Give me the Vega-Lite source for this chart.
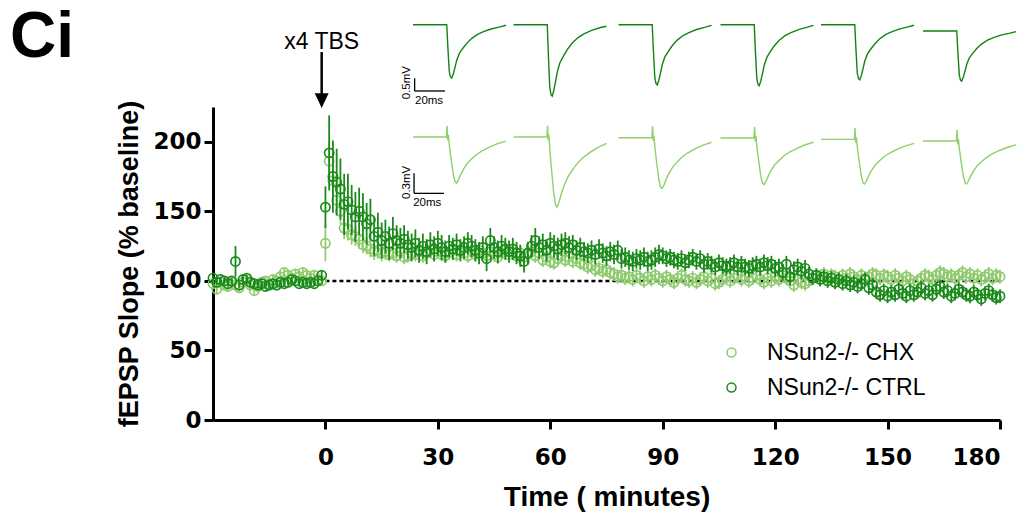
{
"$schema":"https://vega.github.io/schema/vega-lite/v6.json",
"width":787,"height":313,
"autosize":{"type":"none"},
"padding":{"left":213,"top":107,"right":28,"bottom":101},
"background":"white",
"config":{"view":{"stroke":null},"font":"Liberation Sans"},
"title":{"text":"Ci","anchor":"start","frame":"group","fontSize":64,"fontWeight":"bold","font":"Liberation Sans","color":"black","dx":-203,"baseline":"alphabetic","offset":-99},
"datasets":{
"ctrl":[
{"min":-30,"slope":102,"sem":2},{"min":-29,"slope":99,"sem":2},{"min":-28,"slope":101,"sem":2},{"min":-27,"slope":100,"sem":2},{"min":-26,"slope":98,"sem":2},{"min":-25,"slope":100,"sem":2},{"min":-24,"slope":114,"sem":11},{"min":-23,"slope":97,"sem":2},{"min":-22,"slope":101,"sem":2},{"min":-21,"slope":102,"sem":2},{"min":-20,"slope":99,"sem":2},{"min":-19,"slope":98,"sem":2},{"min":-18,"slope":97,"sem":2},{"min":-17,"slope":98,"sem":2},{"min":-16,"slope":96,"sem":2},{"min":-15,"slope":97,"sem":2},{"min":-14,"slope":98,"sem":2},{"min":-13,"slope":97,"sem":2},{"min":-12,"slope":99,"sem":2},{"min":-11,"slope":98,"sem":2},{"min":-10,"slope":99,"sem":2},{"min":-9,"slope":101,"sem":2},{"min":-8,"slope":100,"sem":2},{"min":-7,"slope":98,"sem":2},{"min":-6,"slope":99,"sem":2},{"min":-5,"slope":98,"sem":2},{"min":-4,"slope":99,"sem":2},{"min":-3,"slope":98,"sem":2},{"min":-2,"slope":100,"sem":2},{"min":-1,"slope":104,"sem":3},
{"min":0,"slope":153,"sem":15},{"min":1,"slope":192,"sem":27},{"min":2,"slope":175,"sem":26},{"min":3,"slope":171,"sem":24},{"min":4,"slope":166,"sem":22},{"min":5,"slope":155,"sem":22},{"min":6,"slope":157,"sem":20},{"min":7,"slope":151,"sem":18},{"min":8,"slope":146,"sem":18},{"min":9,"slope":150,"sem":17},{"min":10,"slope":146,"sem":17},{"min":11,"slope":141,"sem":15},{"min":12,"slope":144,"sem":15},{"min":13,"slope":132,"sem":14},{"min":14,"slope":135,"sem":14},{"min":15,"slope":129,"sem":13},{"min":16,"slope":132,"sem":12},{"min":17,"slope":127,"sem":12},{"min":18,"slope":134,"sem":12},{"min":19,"slope":129,"sem":11},{"min":20,"slope":127,"sem":11},{"min":21,"slope":130,"sem":10},{"min":22,"slope":126,"sem":10},{"min":23,"slope":124,"sem":10},{"min":24,"slope":127,"sem":10},{"min":25,"slope":122,"sem":9},{"min":26,"slope":125,"sem":9},{"min":27,"slope":121,"sem":9},{"min":28,"slope":126,"sem":9},{"min":29,"slope":123,"sem":9},{"min":30,"slope":127,"sem":9},{"min":31,"slope":124,"sem":9},{"min":32,"slope":121,"sem":8},{"min":33,"slope":125,"sem":8},{"min":34,"slope":123,"sem":8},{"min":35,"slope":126,"sem":8},{"min":36,"slope":122,"sem":8},{"min":37,"slope":124,"sem":8},{"min":38,"slope":127,"sem":8},{"min":39,"slope":125,"sem":8},{"min":40,"slope":122,"sem":8},{"min":41,"slope":120,"sem":8},{"min":42,"slope":124,"sem":8},{"min":43,"slope":116,"sem":9},{"min":44,"slope":129,"sem":9},{"min":45,"slope":124,"sem":8},{"min":46,"slope":121,"sem":8},{"min":47,"slope":125,"sem":8},{"min":48,"slope":123,"sem":8},{"min":49,"slope":121,"sem":8},{"min":50,"slope":123,"sem":8},{"min":51,"slope":120,"sem":8},{"min":52,"slope":118,"sem":8},{"min":53,"slope":114,"sem":8},{"min":54,"slope":120,"sem":8},{"min":55,"slope":125,"sem":8},{"min":56,"slope":129,"sem":9},{"min":57,"slope":124,"sem":8},{"min":58,"slope":126,"sem":8},{"min":59,"slope":122,"sem":8},{"min":60,"slope":127,"sem":8},{"min":61,"slope":125,"sem":8},{"min":62,"slope":123,"sem":8},{"min":63,"slope":126,"sem":8},{"min":64,"slope":127,"sem":8},{"min":65,"slope":124,"sem":8},{"min":66,"slope":126,"sem":7},{"min":67,"slope":122,"sem":7},{"min":68,"slope":124,"sem":7},{"min":69,"slope":121,"sem":7},{"min":70,"slope":120,"sem":7},{"min":71,"slope":122,"sem":7},{"min":72,"slope":119,"sem":7},{"min":73,"slope":123,"sem":7},{"min":74,"slope":120,"sem":7},{"min":75,"slope":118,"sem":7},{"min":76,"slope":121,"sem":7},{"min":77,"slope":119,"sem":7},{"min":78,"slope":122,"sem":7},{"min":79,"slope":116,"sem":7},{"min":80,"slope":117,"sem":7},{"min":81,"slope":115,"sem":7},{"min":82,"slope":114,"sem":7},{"min":83,"slope":116,"sem":7},{"min":84,"slope":115,"sem":7},{"min":85,"slope":117,"sem":7},{"min":86,"slope":114,"sem":7},{"min":87,"slope":115,"sem":7},{"min":88,"slope":117,"sem":7},{"min":89,"slope":119,"sem":7},{"min":90,"slope":118,"sem":6},{"min":91,"slope":116,"sem":6},{"min":92,"slope":117,"sem":6},{"min":93,"slope":115,"sem":6},{"min":94,"slope":114,"sem":6},{"min":95,"slope":116,"sem":6},{"min":96,"slope":113,"sem":6},{"min":97,"slope":115,"sem":6},{"min":98,"slope":117,"sem":6},{"min":99,"slope":114,"sem":6},{"min":100,"slope":116,"sem":6},{"min":101,"slope":112,"sem":6},{"min":102,"slope":114,"sem":6},{"min":103,"slope":112,"sem":6},{"min":104,"slope":110,"sem":6},{"min":105,"slope":113,"sem":6},{"min":106,"slope":111,"sem":6},{"min":107,"slope":110,"sem":6},{"min":108,"slope":111,"sem":6},{"min":109,"slope":113,"sem":6},{"min":110,"slope":110,"sem":6},{"min":111,"slope":112,"sem":6},{"min":112,"slope":110,"sem":6},{"min":113,"slope":109,"sem":6},{"min":114,"slope":111,"sem":6},{"min":115,"slope":112,"sem":6},{"min":116,"slope":110,"sem":6},{"min":117,"slope":113,"sem":6},{"min":118,"slope":111,"sem":6},{"min":119,"slope":112,"sem":6},{"min":120,"slope":109,"sem":6},{"min":121,"slope":110,"sem":6},{"min":122,"slope":106,"sem":6},{"min":123,"slope":112,"sem":6},{"min":124,"slope":103,"sem":6},{"min":125,"slope":108,"sem":6},{"min":126,"slope":110,"sem":6},{"min":127,"slope":107,"sem":6},{"min":128,"slope":109,"sem":6},{"min":129,"slope":105,"sem":5},{"min":130,"slope":102,"sem":5},{"min":131,"slope":104,"sem":5},{"min":132,"slope":101,"sem":5},{"min":133,"slope":103,"sem":5},{"min":134,"slope":100,"sem":5},{"min":135,"slope":102,"sem":5},{"min":136,"slope":99,"sem":5},{"min":137,"slope":101,"sem":5},{"min":138,"slope":98,"sem":5},{"min":139,"slope":100,"sem":5},{"min":140,"slope":97,"sem":5},{"min":141,"slope":99,"sem":5},{"min":142,"slope":96,"sem":5},{"min":143,"slope":98,"sem":5},{"min":144,"slope":101,"sem":5},{"min":145,"slope":95,"sem":5},{"min":146,"slope":97,"sem":5},{"min":147,"slope":92,"sem":5},{"min":148,"slope":90,"sem":5},{"min":149,"slope":93,"sem":5},{"min":150,"slope":89,"sem":5},{"min":151,"slope":92,"sem":5},{"min":152,"slope":90,"sem":5},{"min":153,"slope":94,"sem":5},{"min":154,"slope":91,"sem":5},{"min":155,"slope":89,"sem":5},{"min":156,"slope":93,"sem":5},{"min":157,"slope":90,"sem":5},{"min":158,"slope":92,"sem":5},{"min":159,"slope":95,"sem":5},{"min":160,"slope":91,"sem":5},{"min":161,"slope":93,"sem":5},{"min":162,"slope":90,"sem":5},{"min":163,"slope":94,"sem":5},{"min":164,"slope":96,"sem":5},{"min":165,"slope":92,"sem":5},{"min":166,"slope":93,"sem":5},{"min":167,"slope":89,"sem":5},{"min":168,"slope":91,"sem":5},{"min":169,"slope":94,"sem":5},{"min":170,"slope":92,"sem":5},{"min":171,"slope":90,"sem":5},{"min":172,"slope":89,"sem":5},{"min":173,"slope":92,"sem":5},{"min":174,"slope":90,"sem":5},{"min":175,"slope":87,"sem":5},{"min":176,"slope":91,"sem":5},{"min":177,"slope":93,"sem":5},{"min":178,"slope":90,"sem":5},{"min":179,"slope":88,"sem":5},{"min":180,"slope":89,"sem":5}
],
"chx":[
{"min":-30,"slope":98,"sem":3},{"min":-29,"slope":94,"sem":3},{"min":-28,"slope":99,"sem":3},{"min":-27,"slope":97,"sem":3},{"min":-26,"slope":96,"sem":3},{"min":-25,"slope":99,"sem":3},{"min":-24,"slope":97,"sem":3},{"min":-23,"slope":95,"sem":3},{"min":-22,"slope":99,"sem":3},{"min":-21,"slope":101,"sem":3},{"min":-20,"slope":97,"sem":3},{"min":-19,"slope":93,"sem":3},{"min":-18,"slope":96,"sem":3},{"min":-17,"slope":99,"sem":3},{"min":-16,"slope":100,"sem":3},{"min":-15,"slope":98,"sem":3},{"min":-14,"slope":101,"sem":3},{"min":-13,"slope":100,"sem":3},{"min":-12,"slope":103,"sem":3},{"min":-11,"slope":106,"sem":3},{"min":-10,"slope":104,"sem":3},{"min":-9,"slope":102,"sem":3},{"min":-8,"slope":105,"sem":3},{"min":-7,"slope":103,"sem":3},{"min":-6,"slope":106,"sem":3},{"min":-5,"slope":104,"sem":3},{"min":-4,"slope":102,"sem":3},{"min":-3,"slope":104,"sem":3},{"min":-2,"slope":101,"sem":3},{"min":-1,"slope":100,"sem":3},
{"min":0,"slope":127,"sem":13},{"min":1,"slope":186,"sem":14},{"min":2,"slope":172,"sem":12},{"min":3,"slope":158,"sem":10},{"min":4,"slope":150,"sem":9},{"min":5,"slope":138,"sem":8},{"min":6,"slope":137,"sem":8},{"min":7,"slope":133,"sem":7},{"min":8,"slope":132,"sem":7},{"min":9,"slope":130,"sem":7},{"min":10,"slope":126,"sem":6},{"min":11,"slope":125,"sem":6},{"min":12,"slope":123,"sem":6},{"min":13,"slope":121,"sem":6},{"min":14,"slope":122,"sem":6},{"min":15,"slope":120,"sem":6},{"min":16,"slope":121,"sem":6},{"min":17,"slope":119,"sem":5},{"min":18,"slope":120,"sem":5},{"min":19,"slope":118,"sem":5},{"min":20,"slope":121,"sem":5},{"min":21,"slope":117,"sem":5},{"min":22,"slope":118,"sem":5},{"min":23,"slope":120,"sem":5},{"min":24,"slope":119,"sem":5},{"min":25,"slope":121,"sem":5},{"min":26,"slope":118,"sem":5},{"min":27,"slope":120,"sem":5},{"min":28,"slope":122,"sem":5},{"min":29,"slope":119,"sem":5},{"min":30,"slope":121,"sem":5},{"min":31,"slope":119,"sem":5},{"min":32,"slope":118,"sem":5},{"min":33,"slope":120,"sem":5},{"min":34,"slope":122,"sem":5},{"min":35,"slope":119,"sem":5},{"min":36,"slope":121,"sem":5},{"min":37,"slope":120,"sem":5},{"min":38,"slope":118,"sem":5},{"min":39,"slope":121,"sem":5},{"min":40,"slope":119,"sem":5},{"min":41,"slope":122,"sem":5},{"min":42,"slope":120,"sem":5},{"min":43,"slope":118,"sem":5},{"min":44,"slope":121,"sem":5},{"min":45,"slope":119,"sem":5},{"min":46,"slope":117,"sem":5},{"min":47,"slope":120,"sem":5},{"min":48,"slope":122,"sem":5},{"min":49,"slope":119,"sem":5},{"min":50,"slope":121,"sem":5},{"min":51,"slope":118,"sem":5},{"min":52,"slope":120,"sem":5},{"min":53,"slope":117,"sem":5},{"min":54,"slope":119,"sem":5},{"min":55,"slope":121,"sem":5},{"min":56,"slope":118,"sem":5},{"min":57,"slope":120,"sem":5},{"min":58,"slope":115,"sem":5},{"min":59,"slope":117,"sem":5},{"min":60,"slope":114,"sem":5},{"min":61,"slope":113,"sem":5},{"min":62,"slope":116,"sem":5},{"min":63,"slope":118,"sem":5},{"min":64,"slope":115,"sem":5},{"min":65,"slope":117,"sem":5},{"min":66,"slope":114,"sem":5},{"min":67,"slope":116,"sem":5},{"min":68,"slope":113,"sem":5},{"min":69,"slope":112,"sem":5},{"min":70,"slope":110,"sem":5},{"min":71,"slope":111,"sem":5},{"min":72,"slope":108,"sem":5},{"min":73,"slope":109,"sem":5},{"min":74,"slope":107,"sem":5},{"min":75,"slope":108,"sem":5},{"min":76,"slope":106,"sem":5},{"min":77,"slope":105,"sem":5},{"min":78,"slope":103,"sem":5},{"min":79,"slope":104,"sem":5},{"min":80,"slope":102,"sem":5},{"min":81,"slope":103,"sem":5},{"min":82,"slope":101,"sem":5},{"min":83,"slope":104,"sem":5},{"min":84,"slope":102,"sem":5},{"min":85,"slope":100,"sem":5},{"min":86,"slope":103,"sem":5},{"min":87,"slope":101,"sem":5},{"min":88,"slope":104,"sem":5},{"min":89,"slope":102,"sem":5},{"min":90,"slope":100,"sem":5},{"min":91,"slope":103,"sem":5},{"min":92,"slope":101,"sem":5},{"min":93,"slope":99,"sem":5},{"min":94,"slope":102,"sem":5},{"min":95,"slope":104,"sem":5},{"min":96,"slope":101,"sem":5},{"min":97,"slope":100,"sem":5},{"min":98,"slope":102,"sem":5},{"min":99,"slope":99,"sem":5},{"min":100,"slope":101,"sem":5},{"min":101,"slope":103,"sem":5},{"min":102,"slope":100,"sem":5},{"min":103,"slope":102,"sem":5},{"min":104,"slope":98,"sem":5},{"min":105,"slope":99,"sem":5},{"min":106,"slope":101,"sem":5},{"min":107,"slope":103,"sem":5},{"min":108,"slope":100,"sem":5},{"min":109,"slope":102,"sem":5},{"min":110,"slope":104,"sem":5},{"min":111,"slope":101,"sem":5},{"min":112,"slope":103,"sem":5},{"min":113,"slope":100,"sem":5},{"min":114,"slope":102,"sem":5},{"min":115,"slope":104,"sem":5},{"min":116,"slope":101,"sem":5},{"min":117,"slope":99,"sem":5},{"min":118,"slope":102,"sem":5},{"min":119,"slope":100,"sem":5},{"min":120,"slope":103,"sem":5},{"min":121,"slope":101,"sem":5},{"min":122,"slope":104,"sem":5},{"min":123,"slope":102,"sem":5},{"min":124,"slope":100,"sem":5},{"min":125,"slope":97,"sem":5},{"min":126,"slope":101,"sem":5},{"min":127,"slope":99,"sem":5},{"min":128,"slope":98,"sem":5},{"min":129,"slope":100,"sem":5},{"min":130,"slope":102,"sem":5},{"min":131,"slope":104,"sem":5},{"min":132,"slope":103,"sem":5},{"min":133,"slope":105,"sem":5},{"min":134,"slope":102,"sem":5},{"min":135,"slope":104,"sem":5},{"min":136,"slope":103,"sem":5},{"min":137,"slope":101,"sem":5},{"min":138,"slope":104,"sem":5},{"min":139,"slope":102,"sem":5},{"min":140,"slope":105,"sem":5},{"min":141,"slope":103,"sem":5},{"min":142,"slope":101,"sem":5},{"min":143,"slope":104,"sem":5},{"min":144,"slope":102,"sem":5},{"min":145,"slope":103,"sem":5},{"min":146,"slope":105,"sem":5},{"min":147,"slope":104,"sem":5},{"min":148,"slope":102,"sem":5},{"min":149,"slope":104,"sem":5},{"min":150,"slope":103,"sem":5},{"min":151,"slope":101,"sem":5},{"min":152,"slope":104,"sem":5},{"min":153,"slope":102,"sem":5},{"min":154,"slope":100,"sem":5},{"min":155,"slope":103,"sem":5},{"min":156,"slope":101,"sem":5},{"min":157,"slope":98,"sem":5},{"min":158,"slope":100,"sem":5},{"min":159,"slope":102,"sem":5},{"min":160,"slope":104,"sem":5},{"min":161,"slope":103,"sem":5},{"min":162,"slope":101,"sem":5},{"min":163,"slope":104,"sem":5},{"min":164,"slope":106,"sem":5},{"min":165,"slope":105,"sem":5},{"min":166,"slope":103,"sem":5},{"min":167,"slope":104,"sem":5},{"min":168,"slope":102,"sem":5},{"min":169,"slope":104,"sem":5},{"min":170,"slope":106,"sem":5},{"min":171,"slope":103,"sem":5},{"min":172,"slope":105,"sem":5},{"min":173,"slope":102,"sem":5},{"min":174,"slope":104,"sem":5},{"min":175,"slope":101,"sem":5},{"min":176,"slope":103,"sem":5},{"min":177,"slope":105,"sem":5},{"min":178,"slope":102,"sem":5},{"min":179,"slope":104,"sem":5},{"min":180,"slope":103,"sem":5}
],
"traceTop":[
{"sweep":1,"t":0,"mV":0},{"sweep":1,"t":22.5,"mV":0},{"sweep":1,"t":23.3,"mV":-0.945},{"sweep":1,"t":24.2,"mV":-1.848},{"sweep":1,"t":25,"mV":-2.058},{"sweep":1,"t":25.8,"mV":-2.1},{"sweep":1,"t":26.8,"mV":-1.953},{"sweep":1,"t":28,"mV":-1.68},{"sweep":1,"t":29.2,"mV":-1.386},{"sweep":1,"t":31,"mV":-1.113},{"sweep":1,"t":33,"mV":-0.945},{"sweep":1,"t":35.8,"mV":-0.735},{"sweep":1,"t":39,"mV":-0.546},{"sweep":1,"t":43,"mV":-0.378},{"sweep":1,"t":47,"mV":-0.273},{"sweep":1,"t":52,"mV":-0.168},{"sweep":1,"t":58,"mV":-0.084},{"sweep":1,"t":62,"mV":-0.021},
{"sweep":2,"t":67,"mV":0},{"sweep":2,"t":89.5,"mV":0},{"sweep":2,"t":90.3,"mV":-1.265},{"sweep":2,"t":91.2,"mV":-2.473},{"sweep":2,"t":92,"mV":-2.754},{"sweep":2,"t":92.8,"mV":-2.81},{"sweep":2,"t":93.8,"mV":-2.613},{"sweep":2,"t":95,"mV":-2.248},{"sweep":2,"t":96.2,"mV":-1.855},{"sweep":2,"t":98,"mV":-1.489},{"sweep":2,"t":100,"mV":-1.265},{"sweep":2,"t":102.8,"mV":-0.984},{"sweep":2,"t":106,"mV":-0.731},{"sweep":2,"t":110,"mV":-0.506},{"sweep":2,"t":114,"mV":-0.365},{"sweep":2,"t":119,"mV":-0.225},{"sweep":2,"t":125,"mV":-0.112},{"sweep":2,"t":129,"mV":-0.06},
{"sweep":3,"t":137,"mV":0},{"sweep":3,"t":159.5,"mV":0},{"sweep":3,"t":160.3,"mV":-1.067},{"sweep":3,"t":161.2,"mV":-2.086},{"sweep":3,"t":162,"mV":-2.323},{"sweep":3,"t":162.8,"mV":-2.37},{"sweep":3,"t":163.8,"mV":-2.204},{"sweep":3,"t":165,"mV":-1.896},{"sweep":3,"t":166.2,"mV":-1.564},{"sweep":3,"t":168,"mV":-1.256},{"sweep":3,"t":170,"mV":-1.067},{"sweep":3,"t":172.8,"mV":-0.83},{"sweep":3,"t":176,"mV":-0.616},{"sweep":3,"t":180,"mV":-0.427},{"sweep":3,"t":184,"mV":-0.308},{"sweep":3,"t":189,"mV":-0.19},{"sweep":3,"t":195,"mV":-0.095},{"sweep":3,"t":199,"mV":-0.024},
{"sweep":4,"t":205,"mV":0},{"sweep":4,"t":227.5,"mV":0},{"sweep":4,"t":228.3,"mV":-1.08},{"sweep":4,"t":229.2,"mV":-2.112},{"sweep":4,"t":230,"mV":-2.352},{"sweep":4,"t":230.8,"mV":-2.4},{"sweep":4,"t":231.8,"mV":-2.232},{"sweep":4,"t":233,"mV":-1.92},{"sweep":4,"t":234.2,"mV":-1.584},{"sweep":4,"t":236,"mV":-1.272},{"sweep":4,"t":238,"mV":-1.08},{"sweep":4,"t":240.8,"mV":-0.84},{"sweep":4,"t":244,"mV":-0.624},{"sweep":4,"t":248,"mV":-0.432},{"sweep":4,"t":252,"mV":-0.312},{"sweep":4,"t":257,"mV":-0.192},{"sweep":4,"t":263,"mV":-0.096},{"sweep":4,"t":267,"mV":-0.024},
{"sweep":5,"t":272,"mV":0},{"sweep":5,"t":294.5,"mV":0},{"sweep":5,"t":295.3,"mV":-0.977},{"sweep":5,"t":296.2,"mV":-1.91},{"sweep":5,"t":297,"mV":-2.127},{"sweep":5,"t":297.8,"mV":-2.17},{"sweep":5,"t":298.8,"mV":-2.018},{"sweep":5,"t":300,"mV":-1.736},{"sweep":5,"t":301.2,"mV":-1.432},{"sweep":5,"t":303,"mV":-1.15},{"sweep":5,"t":305,"mV":-0.977},{"sweep":5,"t":307.8,"mV":-0.76},{"sweep":5,"t":311,"mV":-0.564},{"sweep":5,"t":315,"mV":-0.391},{"sweep":5,"t":319,"mV":-0.282},{"sweep":5,"t":324,"mV":-0.174},{"sweep":5,"t":330,"mV":-0.087},{"sweep":5,"t":334,"mV":-0.022},
{"sweep":6,"t":340,"mV":-0.25},{"sweep":6,"t":362.5,"mV":-0.25},{"sweep":6,"t":363.3,"mV":-1.137},{"sweep":6,"t":364.2,"mV":-1.984},{"sweep":6,"t":365,"mV":-2.181},{"sweep":6,"t":365.8,"mV":-2.22},{"sweep":6,"t":366.8,"mV":-2.082},{"sweep":6,"t":368,"mV":-1.826},{"sweep":6,"t":369.2,"mV":-1.55},{"sweep":6,"t":371,"mV":-1.294},{"sweep":6,"t":373,"mV":-1.137},{"sweep":6,"t":375.8,"mV":-0.94},{"sweep":6,"t":379,"mV":-0.762},{"sweep":6,"t":383,"mV":-0.605},{"sweep":6,"t":387,"mV":-0.506},{"sweep":6,"t":392,"mV":-0.408},{"sweep":6,"t":398,"mV":-0.329},{"sweep":6,"t":402,"mV":-0.27}
],
"traceBottom":[
{"sweep":1,"t":0,"mV":0},{"sweep":1,"t":22.3,"mV":0},{"sweep":1,"t":22.7,"mV":0.17},{"sweep":1,"t":23.2,"mV":-0.05},{"sweep":1,"t":23.6,"mV":0.03},{"sweep":1,"t":24.3,"mV":-0.138},{"sweep":1,"t":25.5,"mV":-0.345},{"sweep":1,"t":26.8,"mV":-0.552},{"sweep":1,"t":28,"mV":-0.669},{"sweep":1,"t":29,"mV":-0.69},{"sweep":1,"t":30.3,"mV":-0.642},{"sweep":1,"t":32,"mV":-0.552},{"sweep":1,"t":34,"mV":-0.469},{"sweep":1,"t":36,"mV":-0.4},{"sweep":1,"t":39,"mV":-0.331},{"sweep":1,"t":42,"mV":-0.269},{"sweep":1,"t":46,"mV":-0.207},{"sweep":1,"t":51,"mV":-0.152},{"sweep":1,"t":56,"mV":-0.104},{"sweep":1,"t":62,"mV":-0.062},
{"sweep":2,"t":67,"mV":0},{"sweep":2,"t":89.3,"mV":0},{"sweep":2,"t":89.7,"mV":0.17},{"sweep":2,"t":90.2,"mV":-0.05},{"sweep":2,"t":90.6,"mV":0.03},{"sweep":2,"t":91.3,"mV":-0.21},{"sweep":2,"t":92.5,"mV":-0.525},{"sweep":2,"t":93.8,"mV":-0.84},{"sweep":2,"t":95,"mV":-1.019},{"sweep":2,"t":96,"mV":-1.05},{"sweep":2,"t":97.3,"mV":-0.977},{"sweep":2,"t":99,"mV":-0.84},{"sweep":2,"t":101,"mV":-0.714},{"sweep":2,"t":103,"mV":-0.609},{"sweep":2,"t":106,"mV":-0.504},{"sweep":2,"t":109,"mV":-0.41},{"sweep":2,"t":113,"mV":-0.315},{"sweep":2,"t":118,"mV":-0.231},{"sweep":2,"t":123,"mV":-0.158},{"sweep":2,"t":129,"mV":-0.095},
{"sweep":3,"t":137,"mV":-0.01},{"sweep":3,"t":159.3,"mV":-0.01},{"sweep":3,"t":159.7,"mV":0.16},{"sweep":3,"t":160.2,"mV":-0.06},{"sweep":3,"t":160.6,"mV":0.02},{"sweep":3,"t":161.3,"mV":-0.163},{"sweep":3,"t":162.5,"mV":-0.393},{"sweep":3,"t":163.8,"mV":-0.622},{"sweep":3,"t":165,"mV":-0.752},{"sweep":3,"t":166,"mV":-0.775},{"sweep":3,"t":167.3,"mV":-0.721},{"sweep":3,"t":169,"mV":-0.622},{"sweep":3,"t":171,"mV":-0.53},{"sweep":3,"t":173,"mV":-0.454},{"sweep":3,"t":176,"mV":-0.377},{"sweep":3,"t":179,"mV":-0.308},{"sweep":3,"t":183,"mV":-0.24},{"sweep":3,"t":188,"mV":-0.178},{"sweep":3,"t":193,"mV":-0.125},{"sweep":3,"t":199,"mV":-0.079},
{"sweep":4,"t":205,"mV":-0.015},{"sweep":4,"t":227.3,"mV":-0.015},{"sweep":4,"t":227.7,"mV":0.155},{"sweep":4,"t":228.2,"mV":-0.065},{"sweep":4,"t":228.6,"mV":0.015},{"sweep":4,"t":229.3,"mV":-0.155},{"sweep":4,"t":230.5,"mV":-0.365},{"sweep":4,"t":231.8,"mV":-0.575},{"sweep":4,"t":233,"mV":-0.694},{"sweep":4,"t":234,"mV":-0.715},{"sweep":4,"t":235.3,"mV":-0.666},{"sweep":4,"t":237,"mV":-0.575},{"sweep":4,"t":239,"mV":-0.491},{"sweep":4,"t":241,"mV":-0.421},{"sweep":4,"t":244,"mV":-0.351},{"sweep":4,"t":247,"mV":-0.288},{"sweep":4,"t":251,"mV":-0.225},{"sweep":4,"t":256,"mV":-0.169},{"sweep":4,"t":261,"mV":-0.12},{"sweep":4,"t":267,"mV":-0.078},
{"sweep":5,"t":272,"mV":-0.035},{"sweep":5,"t":294.3,"mV":-0.035},{"sweep":5,"t":294.7,"mV":0.135},{"sweep":5,"t":295.2,"mV":-0.085},{"sweep":5,"t":295.6,"mV":-0.005},{"sweep":5,"t":296.3,"mV":-0.169},{"sweep":5,"t":297.5,"mV":-0.37},{"sweep":5,"t":298.8,"mV":-0.571},{"sweep":5,"t":300,"mV":-0.685},{"sweep":5,"t":301,"mV":-0.705},{"sweep":5,"t":302.3,"mV":-0.658},{"sweep":5,"t":304,"mV":-0.571},{"sweep":5,"t":306,"mV":-0.491},{"sweep":5,"t":308,"mV":-0.424},{"sweep":5,"t":311,"mV":-0.357},{"sweep":5,"t":314,"mV":-0.296},{"sweep":5,"t":318,"mV":-0.236},{"sweep":5,"t":323,"mV":-0.182},{"sweep":5,"t":328,"mV":-0.136},{"sweep":5,"t":334,"mV":-0.095},
{"sweep":6,"t":340,"mV":-0.06},{"sweep":6,"t":362.3,"mV":-0.06},{"sweep":6,"t":362.7,"mV":0.11},{"sweep":6,"t":363.2,"mV":-0.11},{"sweep":6,"t":363.6,"mV":-0.03},{"sweep":6,"t":364.3,"mV":-0.189},{"sweep":6,"t":365.5,"mV":-0.383},{"sweep":6,"t":366.8,"mV":-0.576},{"sweep":6,"t":368,"mV":-0.686},{"sweep":6,"t":369,"mV":-0.705},{"sweep":6,"t":370.3,"mV":-0.66},{"sweep":6,"t":372,"mV":-0.576},{"sweep":6,"t":374,"mV":-0.499},{"sweep":6,"t":376,"mV":-0.434},{"sweep":6,"t":379,"mV":-0.37},{"sweep":6,"t":382,"mV":-0.312},{"sweep":6,"t":386,"mV":-0.254},{"sweep":6,"t":391,"mV":-0.202},{"sweep":6,"t":396,"mV":-0.157},{"sweep":6,"t":402,"mV":-0.118}
]
},
"layer":[
{"layer":[
{"data":{"values":[{"min":0,"min2":180,"slope":100}]},
 "mark":{"type":"rule","color":"black","strokeWidth":2.5,"strokeDash":[4,3]},
 "encoding":{"x":{"field":"min","type":"quantitative","title":"Time ( minutes)","scale":{"domain":[-30,180],"nice":false,"zero":false},
   "axis":{"values":[0,30,60,90,120,150,180],"grid":false,"domainColor":"black","domainWidth":3,"tickColor":"black","tickWidth":3,"tickSize":9,"labelFontSize":23,"labelFontWeight":"bold","labelColor":"black","labelPadding":17,"labelFont":"DejaVu Sans","titleFont":"Liberation Sans","titleFontSize":28,"titleFontWeight":"bold","titleColor":"black","titlePadding":14}},
  "x2":{"field":"min2"},
  "y":{"field":"slope","type":"quantitative","title":"fEPSP Slope (% baseline)","scale":{"domain":[0,225],"nice":false,"zero":false},
   "axis":{"values":[0,50,100,150,200],"grid":false,"domainColor":"black","domainWidth":3,"tickColor":"black","tickWidth":3,"tickSize":9,"labelFontSize":23,"labelFontWeight":"bold","labelColor":"black","labelPadding":3,"labelFont":"DejaVu Sans","titleFont":"Liberation Sans","titleFontSize":27,"titleFontWeight":"bold","titleColor":"black","titlePadding":9}}}},
{"data":{"name":"chx"},
 "mark":{"type":"errorbar","color":"#8fcb6e","thickness":1.7},
 "encoding":{"x":{"field":"min","type":"quantitative","title":"Time ( minutes)"},"y":{"field":"slope","type":"quantitative","title":"fEPSP Slope (% baseline)"},"yError":{"field":"sem"}}},
{"data":{"name":"chx"},
 "mark":{"type":"point","filled":false,"size":85,"strokeWidth":1.7,"opacity":1},
 "encoding":{"x":{"field":"min","type":"quantitative","title":"Time ( minutes)"},"y":{"field":"slope","type":"quantitative","title":"fEPSP Slope (% baseline)"},
  "color":{"datum":"NSun2-/- CHX","type":"nominal","scale":{"domain":["NSun2-/- CHX","NSun2-/- CTRL"],"range":["#8fcb6e","#1b8a1b"]},
   "legend":{"title":null,"orient":"none","legendX":507,"legendY":234,"padding":0,"labelFontSize":23,"labelFont":"Liberation Sans","labelColor":"black","symbolSize":80,"symbolStrokeWidth":1.5,"symbolType":"circle","labelOffset":24,"rowPadding":11}}}},
{"data":{"name":"ctrl"},
 "mark":{"type":"errorbar","color":"#1b8a1b","thickness":1.8},
 "encoding":{"x":{"field":"min","type":"quantitative","title":"Time ( minutes)"},"y":{"field":"slope","type":"quantitative","title":"fEPSP Slope (% baseline)"},"yError":{"field":"sem"}}},
{"data":{"name":"ctrl"},
 "mark":{"type":"point","filled":false,"size":85,"strokeWidth":1.7,"opacity":1},
 "encoding":{"x":{"field":"min","type":"quantitative","title":"Time ( minutes)"},"y":{"field":"slope","type":"quantitative","title":"fEPSP Slope (% baseline)"},
  "color":{"datum":"NSun2-/- CTRL","type":"nominal"}}},
{"data":{"values":[{"min":-1,"slope":264.5,"slope2":233.6}]},
 "mark":{"type":"rule","color":"black","strokeWidth":2.5,"clip":false},
 "encoding":{"x":{"field":"min","type":"quantitative","title":"Time ( minutes)"},"y":{"field":"slope","type":"quantitative","title":"fEPSP Slope (% baseline)"},"y2":{"field":"slope2"}}},
{"data":{"values":[{"min":-1,"slope":230.5}]},
 "mark":{"type":"point","shape":"M-0.8,-0.7L0.8,-0.7L0,1Z","size":300,"filled":true,"color":"black","opacity":1,"clip":false},
 "encoding":{"x":{"field":"min","type":"quantitative","title":"Time ( minutes)"},"y":{"field":"slope","type":"quantitative","title":"fEPSP Slope (% baseline)"}}},
{"data":{"values":[{"min":-1,"slope":272,"label":"x4 TBS"}]},
 "mark":{"type":"text","fontSize":23,"font":"Liberation Sans","color":"black","baseline":"middle","align":"center","clip":false},
 "encoding":{"x":{"field":"min","type":"quantitative","title":"Time ( minutes)"},"y":{"field":"slope","type":"quantitative","title":"fEPSP Slope (% baseline)"},"text":{"field":"label"}}}
]},
{"layer":[
{"data":{"name":"traceTop"},
 "mark":{"type":"line","color":"#138313","strokeWidth":1.4,"clip":false},
 "encoding":{"x":{"field":"t","type":"quantitative","scale":{"domain":[-133.33,391.33],"nice":false,"zero":false},"axis":null},
  "y":{"field":"mV","type":"quantitative","scale":{"domain":[-15.563,-3.24],"nice":false,"zero":false},"axis":null},
  "detail":{"field":"sweep","type":"nominal"}}},
{"data":{"values":[{"t":1.1,"t2":1.1,"mV":-2.61,"mV2":-2.11},{"t":1.1,"t2":21.3,"mV":-2.61,"mV2":-2.61}]},
 "mark":{"type":"rule","color":"black","strokeWidth":1.3,"clip":false},
 "encoding":{"x":{"field":"t","type":"quantitative"},"x2":{"field":"t2"},"y":{"field":"mV","type":"quantitative"},"y2":{"field":"mV2"}}},
{"data":{"values":[{"t":-4,"mV":-2.28,"label":"0.5mV"}]},
 "mark":{"type":"text","angle":270,"fontSize":11.5,"font":"Liberation Sans","color":"black","align":"center","baseline":"middle","clip":false},
 "encoding":{"x":{"field":"t","type":"quantitative"},"y":{"field":"mV","type":"quantitative"},"text":{"field":"label"}}},
{"data":{"values":[{"t":10.7,"mV":-3.02,"label":"20ms"}]},
 "mark":{"type":"text","fontSize":11.5,"font":"Liberation Sans","color":"black","align":"center","baseline":"middle","clip":false},
 "encoding":{"x":{"field":"t","type":"quantitative"},"y":{"field":"mV","type":"quantitative"},"text":{"field":"label"}}}
]},
{"layer":[
{"data":{"name":"traceBottom"},
 "mark":{"type":"line","color":"#8fcf6c","strokeWidth":1.4,"clip":false},
 "encoding":{"x":{"field":"t","type":"quantitative","scale":{"domain":[-133.33,391.33],"nice":false,"zero":false},"axis":null},
  "y":{"field":"mV","type":"quantitative","scale":{"domain":[-4.243,0.45],"nice":false,"zero":false},"axis":null},
  "detail":{"field":"sweep","type":"nominal"}}},
{"data":{"values":[{"t":0.7,"t2":0.7,"mV":-0.845,"mV2":-0.545},{"t":0.7,"t2":20.7,"mV":-0.845,"mV2":-0.845}]},
 "mark":{"type":"rule","color":"black","strokeWidth":1.3,"clip":false},
 "encoding":{"x":{"field":"t","type":"quantitative"},"x2":{"field":"t2"},"y":{"field":"mV","type":"quantitative"},"y2":{"field":"mV2"}}},
{"data":{"values":[{"t":-4,"mV":-0.68,"label":"0.3mV"}]},
 "mark":{"type":"text","angle":270,"fontSize":11.5,"font":"Liberation Sans","color":"black","align":"center","baseline":"middle","clip":false},
 "encoding":{"x":{"field":"t","type":"quantitative"},"y":{"field":"mV","type":"quantitative"},"text":{"field":"label"}}},
{"data":{"values":[{"t":9.5,"mV":-0.985,"label":"20ms"}]},
 "mark":{"type":"text","fontSize":11.5,"font":"Liberation Sans","color":"black","align":"center","baseline":"middle","clip":false},
 "encoding":{"x":{"field":"t","type":"quantitative"},"y":{"field":"mV","type":"quantitative"},"text":{"field":"label"}}}
]}
],
"resolve":{"scale":{"x":"independent","y":"independent"}}
}
